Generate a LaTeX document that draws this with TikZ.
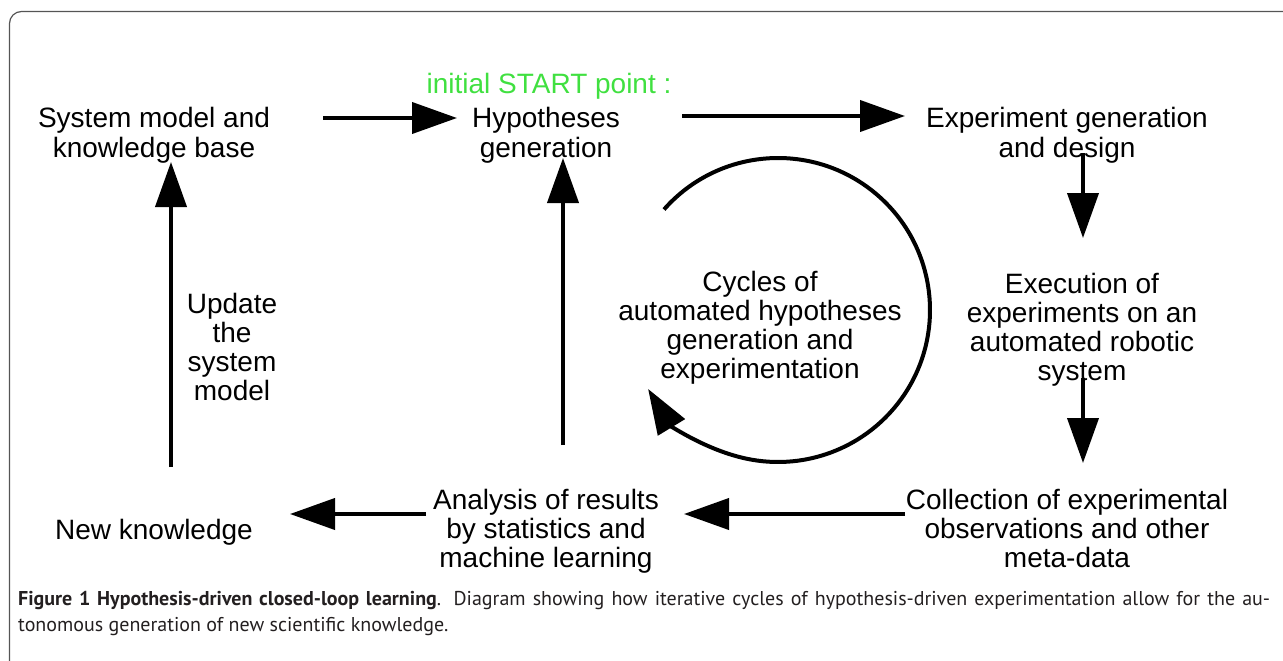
\documentclass[tikz,border=0pt]{standalone}
\usepackage{fontspec}
\setmainfont{Liberation Sans}
\newfontfamily\capfont{PT Sans}
\usetikzlibrary{arrows.meta}
\definecolor{startgreen}{RGB}{64,224,64}
\definecolor{framegray}{RGB}{85,85,85}
\definecolor{captext}{RGB}{35,31,32}
\begin{document}
\begin{tikzpicture}[x=1pt,y=-1pt,
  lbl/.style={font=\fontsize{28}{29}\selectfont, align=center, anchor=base, inner sep=0pt},
  arr/.style={line width=4pt, -{Triangle[length=45pt,width=31pt]}},
  captxt/.style={anchor=base west, inner sep=0pt, text=captext, font=\capfont\fontsize{20}{26}\selectfont}
]
\useasboundingbox (0,0) rectangle (1283,661);
\begin{scope}
\clip (0,0) rectangle (1283,661);
\draw[framegray, line width=1.2pt, rounded corners=12pt] (9.5,11.5) rectangle (1320,700);
\end{scope}

% base anchor = baseline of the last line
\node[lbl] (sys) at (154,157) {System model and\\knowledge base};
\node[lbl, text=startgreen] (start) at (549,93) {initial START point :};
\node[lbl] (hyp) at (546,157) {Hypotheses\\generation};
\node[lbl] (exp) at (1067,157) {Experiment generation\\and design};
\node[lbl] (exec) at (1082,380) {Execution of\\experiments on an\\automated robotic\\system};
\node[lbl] (coll) at (1067,567) {Collection of experimental\\observations and other\\meta-data};
\node[lbl] (anal) at (546,567) {Analysis of results\\by statistics and\\machine learning};
\node[lbl] (newk) at (154,539) {New knowledge};
\node[lbl] (upd) at (232,400) {Update\\the\\system\\model};
\node[lbl] (cyc) at (760,378) {Cycles of\\automated hypotheses\\generation and\\experimentation};

\coordinate (a1s) at (323,118);  \coordinate (a1e) at (457,118);
\coordinate (a2s) at (682,116);  \coordinate (a2e) at (905,116);
\coordinate (a3s) at (1083,153); \coordinate (a3e) at (1083,238);
\coordinate (a4s) at (1083,378); \coordinate (a4e) at (1083,463);
\coordinate (a5s) at (905,514);  \coordinate (a5e) at (684,514);
\coordinate (a6s) at (426,514);  \coordinate (a6e) at (290,514);
\coordinate (a7s) at (171,467);  \coordinate (a7e) at (171,162);
\coordinate (a8s) at (563,445);  \coordinate (a8e) at (563,158);
\coordinate (cc) at (778,310);

\draw[arr] (a1s) -- (a1e);
\draw[arr] (a2s) -- (a2e);
\draw[arr] (a3s) -- (a3e);
\draw[arr] (a4s) -- (a4e);
\draw[arr] (a5s) -- (a5e);
\draw[arr] (a6s) -- (a6e);
\draw[arr] (a7s) -- (a7e);
\draw[arr] (a8s) -- (a8e);
\draw[arr] (cc) ++(-138.6:152) arc[start angle=-138.6, end angle=148.7, radius=152];

\node[captxt] (cap1) at (18,605) {\makebox[1252pt][s]{\textbf{Figure 1 Hypothesis-driven closed-loop learning}. Diagram showing how iterative cycles of hypothesis-driven experimentation allow for the au-}};
\node[captxt] (cap2) at (18,631) {tonomous generation of new scientific knowledge.};
\end{tikzpicture}
\end{document}
